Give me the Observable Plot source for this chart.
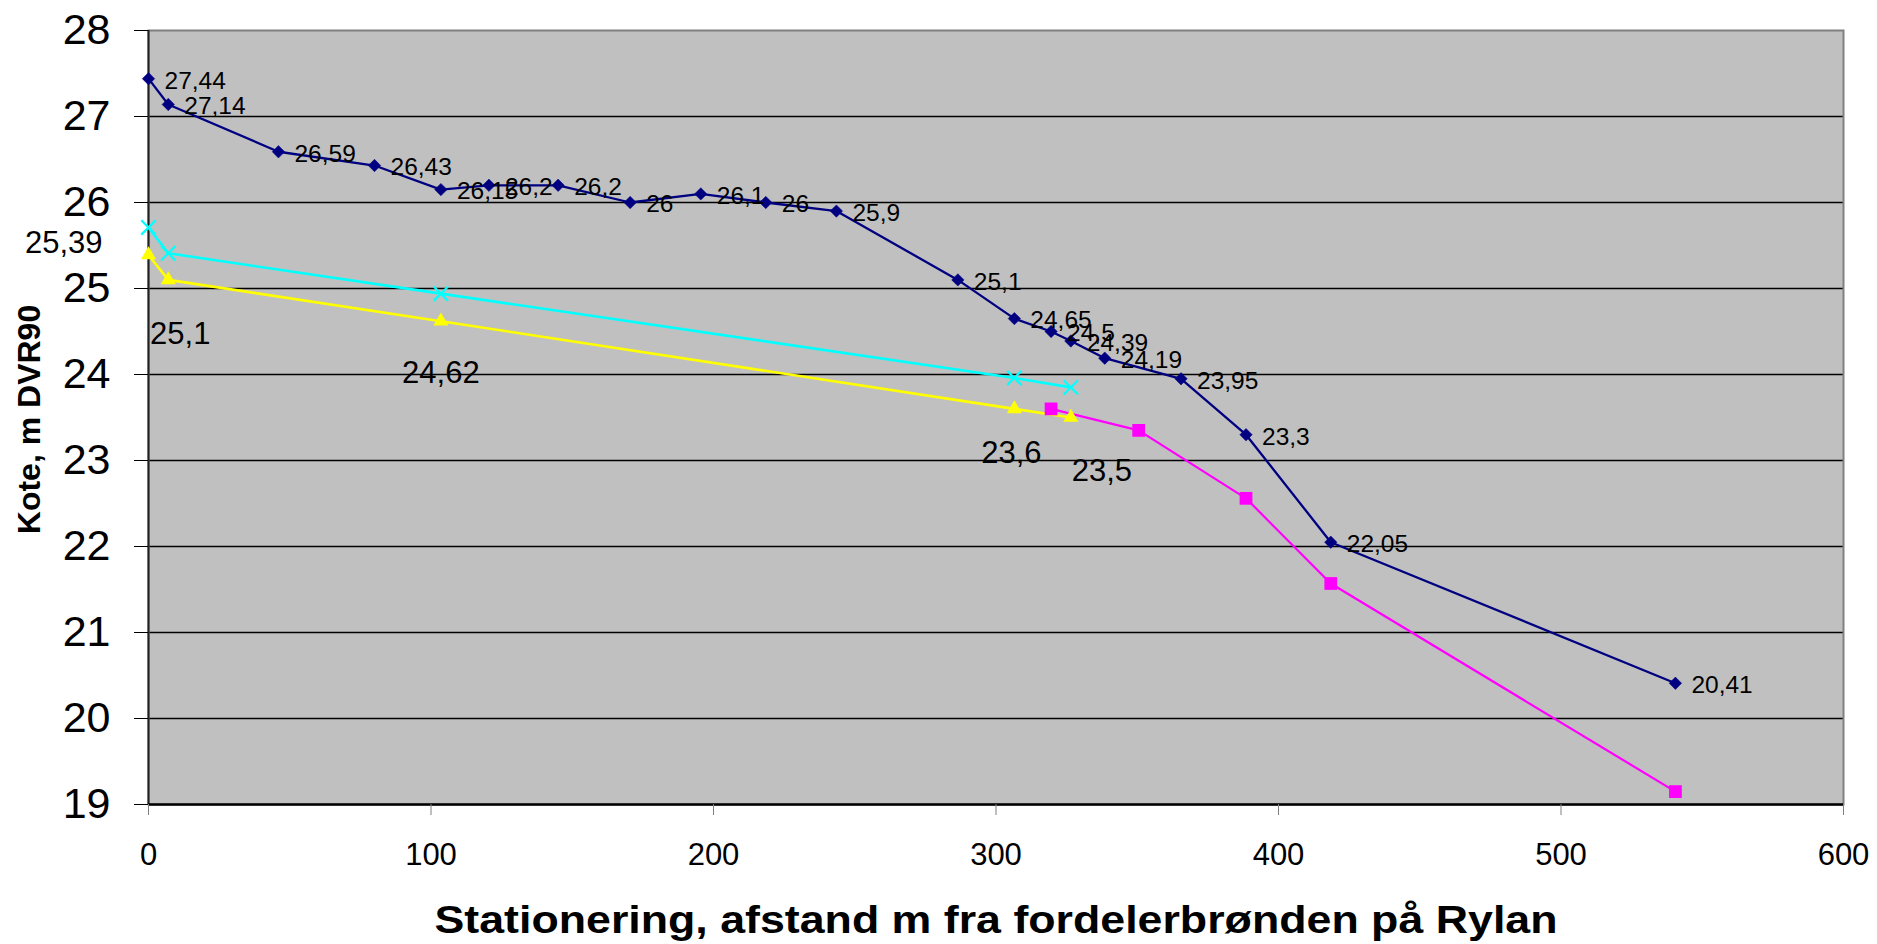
<!DOCTYPE html>
<html>
<head>
<meta charset="utf-8">
<script src="https://cdn.jsdelivr.net/npm/d3@7"></script>
<script src="https://cdn.jsdelivr.net/npm/@observablehq/plot@0.6"></script>
<style>
  html, body { margin: 0; padding: 0; background: white; }
</style>
</head>
<body>
<div id="chart"></div>
<script>
// ---- Data ----
const navyX = [0, 7, 46, 80, 103.5, 120.5, 145, 170.5, 195.5, 218.5, 243.5, 286.5, 306.5, 319.5, 326.5, 338.5, 365.5, 388.5, 418.5, 540.5];
const navyY = [27.44, 27.14, 26.59, 26.43, 26.15, 26.2, 26.2, 26, 26.1, 26, 25.9, 25.1, 24.65, 24.5, 24.39, 24.19, 23.95, 23.3, 22.05, 20.41];
const navyLabels = ["27,44", "27,14", "26,59", "26,43", "26,15", "26,2", "26,2", "26", "26,1", "26", "25,9", "25,1", "24,65", "24,5", "24,39", "24,19", "23,95", "23,3", "22,05", "20,41"];

const cyanX = [0, 7, 103.5, 306.5, 326.5];
const cyanY = [25.71, 25.41, 24.94, 23.96, 23.85];

const yellowX = [0, 7, 103.5, 306.5, 326.5];
const yellowY = [25.39, 25.1, 24.62, 23.6, 23.5];
const yellowLabels = ["25,39", "25,1", "24,62", "23,6", "23,5"];

const magentaX = [319.5, 350.5, 388.5, 418.5, 540.5];
const magentaY = [23.6, 23.35, 22.56, 21.57, 19.15];

const xTicks = [0, 100, 200, 300, 400, 500, 600];
const yTicks = [19, 20, 21, 22, 23, 24, 25, 26, 27, 28];
const gridValues = [20, 21, 22, 23, 24, 25, 26, 27];

const xTitle = "Stationering, afstand m fra fordelerbrønden på Rylan";
const yTitle = "Kote, m DVR90";

// ---- Build tables ----
const navy = navyX.map((x, i) => ({x, y: navyY[i], label: navyLabels[i]}));
const cyan = cyanX.map((x, i) => ({x, y: cyanY[i]}));
const yellow = yellowX.map((x, i) => ({x, y: yellowY[i], label: yellowLabels[i]}));
const magenta = magentaX.map((x, i) => ({x, y: magentaY[i]}));

// label offsets for yellow labels (layout only)
const yellowLabelLayout = [
  {anchor: "end", dx: -46, dy: -12},
  {anchor: "middle", dx: 12, dy: 54},
  {anchor: "middle", dx: 0, dy: 52},
  {anchor: "middle", dx: -3, dy: 44},
  {anchor: "middle", dx: 31, dy: 54}
];

const FONT = "'Liberation Sans', Arial, Helvetica, sans-serif";

const chart = Plot.plot({
  width: 1877,
  height: 944,
  marginLeft: 148,
  marginRight: 34,
  marginTop: 30,
  marginBottom: 140,
  style: {fontFamily: FONT, background: "white", color: "black", overflow: "visible"},
  x: {domain: [0, 600]},
  y: {domain: [19, 28]},
  marks: [
    Plot.frame({fill: "#c0c0c0", stroke: null}),
    Plot.ruleY(gridValues, {stroke: "#000", strokeWidth: 1.3}),
    Plot.frame({stroke: "#808080", strokeWidth: 2, fill: null}),
    Plot.ruleX([0], {stroke: "#222", strokeWidth: 2}),
    Plot.ruleY([19], {stroke: "#000", strokeWidth: 2.5}),
    Plot.axisY({ticks: yTicks, tickSize: 14, tickPadding: 24, fontSize: 43, label: null, tickFormat: d => String(d), stroke: "#000"}),
    Plot.axisX({ticks: xTicks, tickSize: 11, tickPadding: 27, fontSize: 31, label: null, tickFormat: d => String(d), stroke: "#808080"}),

    // series lines
    Plot.line(navy, {x: "x", y: "y", stroke: "#000080", strokeWidth: 2.3}),
    Plot.line(magenta, {x: "x", y: "y", stroke: "#ff00ff", strokeWidth: 2.2}),
    Plot.line(cyan, {x: "x", y: "y", stroke: "#00ffff", strokeWidth: 2.6}),
    Plot.line(yellow, {x: "x", y: "y", stroke: "#ffff00", strokeWidth: 2.6}),

    // markers
    Plot.dot(navy, {x: "x", y: "y", symbol: "diamond2", r: 5.6, fill: "#000080", stroke: "#000080", strokeWidth: 0.5}),
    Plot.dot(magenta, {x: "x", y: "y", symbol: "square", r: 7.2, fill: "#ff00ff", stroke: null}),
    Plot.dot(cyan, {x: "x", y: "y", symbol: "times", r: 6.6, stroke: "#00ffff", strokeWidth: 2.2, fill: "none"}),
    Plot.dot(yellow, {x: "x", y: "y", symbol: "triangle", r: 5.6, fill: "#ffff00", stroke: null}),

    // navy labels
    Plot.text(navy, {x: "x", y: "y", text: "label", textAnchor: "start", dx: 16, dy: 2, fontSize: 24.5, fill: "#000"}),

    // yellow labels (positioned individually)
    ...yellowLabelLayout.map((o, i) =>
      Plot.text([yellow[i]], {x: "x", y: "y", text: "label", textAnchor: o.anchor, dx: o.dx, dy: o.dy, fontSize: 31, fill: "#000"})
    ),

    // axis titles
    Plot.text([xTitle], {frameAnchor: "bottom", textAnchor: "middle", lineAnchor: "middle", dy: 116, fontSize: 39, fontWeight: "bold", fill: "#000"}),
    Plot.text([yTitle], {frameAnchor: "left", textAnchor: "middle", lineAnchor: "middle", rotate: -90, dx: -119, dy: 2, fontSize: 32, fontWeight: "bold", fill: "#000"})
  ]
});

// stretch x title horizontally to match the reference's wider face
d3.select(chart).selectAll("text")
  .filter(function() { return this.textContent === xTitle; })
  .attr("textLength", 1123)
  .attr("lengthAdjust", "spacingAndGlyphs");

document.getElementById("chart").appendChild(chart);
</script>
</body>
</html>
